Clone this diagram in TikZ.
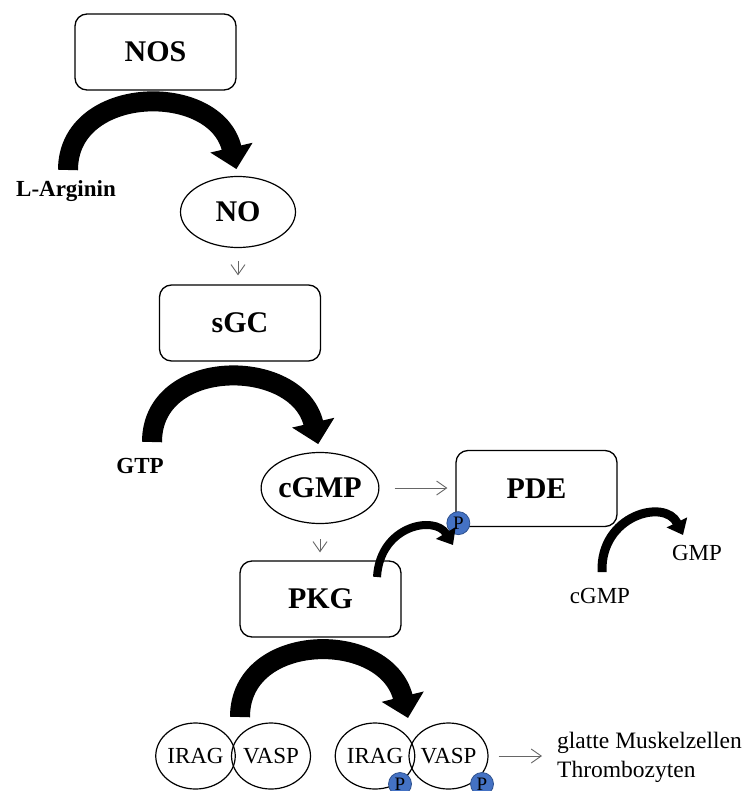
\documentclass[tikz,border=0pt]{standalone}
\usepackage{fontspec}
\setmainfont{Liberation Serif}
\usetikzlibrary{calc,arrows.meta,shapes.geometric}
\definecolor{pblue}{HTML}{4472C4}
\definecolor{pblueline}{HTML}{2F528F}
\tikzset{
  enzbox/.style={draw, line width=1.3pt, rounded corners=12pt, minimum width=161pt, minimum height=76pt, inner sep=0pt, font=\fontsize{30}{30}\selectfont\bfseries},
  molell/.style={draw, ellipse, line width=1.2pt, minimum width=115pt, minimum height=71pt, inner sep=0pt, font=\fontsize{30}{30}\selectfont\bfseries},
  subcirc/.style={draw, ellipse, line width=1.2pt, minimum width=73pt, minimum height=66pt, inner sep=0pt, font=\fontsize{23}{23}\selectfont},
  phos/.style={circle, fill=pblue, draw=pblueline, line width=0.8pt, minimum size=23pt, inner sep=0pt, font=\fontsize{19}{19}\selectfont},
  lbl/.style={inner sep=0pt, font=\fontsize{23}{23}\selectfont},
  thinarrow/.style={draw=black!60, line width=0.9pt, -{Straight Barb[length=10pt,width=14pt]}},
  bigarc/.style={line width=20pt, -{Triangle[width=42pt,length=22pt]}},
  smallarc/.style={line width=8pt, -{Triangle[width=22pt,length=14pt]}}
}

\begin{document}
\begin{tikzpicture}[x=1pt, y=-1pt]
		%%%%% START %%%%%
		\useasboundingbox (0,0) rectangle (748,791);

		\node[enzbox] (NOS) at (155.5,52) {NOS};
		\node[molell] (NO) at (238,212) {NO};
		\node[enzbox] (sGC) at (240,323) {sGC};
		\node[molell] (cGMP) at (320,488) {cGMP};
		\node[enzbox] (PDE) at (536.5,488.5) {PDE};
		\node[enzbox] (PKG) at (320.5,599) {PKG};

		\node[lbl, font=\fontsize{23}{23}\selectfont\bfseries, anchor=base] (Larg) at (66,197) {L-Arginin};
		\node[lbl, font=\fontsize{23}{23}\selectfont\bfseries, anchor=base] (GTP) at (140,473) {GTP};
		\node[lbl, anchor=base] (GMP) at (697,560) {GMP};
		\node[lbl, anchor=base] (cGMPb) at (600,603) {cGMP};

		\node[subcirc] (IRAG1) at (195.5,756) {IRAG};
		\node[subcirc] (VASP1) at (271,756) {VASP};
		\node[subcirc] (IRAG2) at (375,756) {IRAG};
		\node[subcirc] (VASP2) at (448.5,756) {VASP};

		\node[phos] (P0) at ($(PDE.south west)+(3,-4)$) {P};
		\node[phos] (P1) at (400,784) {P};
		\node[phos] (P2) at (482,784) {P};

		\node[lbl, anchor=west, align=left, font=\fontsize{23.5}{29}\selectfont] (effect) at (557,757) {glatte Muskelzellen\\Thrombozyten};

		% big reaction arcs
		\coordinate (argIn) at (68,170);
		\coordinate (gtpIn) at (152,442);
		\coordinate (pkgIn) at (240,717);
		\coordinate (pkgTip) at (408,718);
		\draw[bigarc, shorten >=7pt] (argIn) .. controls +(0,-86) and +(-22,-95) .. (NO.north);
		\draw[bigarc, shorten >=8pt] (gtpIn) .. controls +(0,-86) and +(-22,-95) .. (cGMP.north);
		\draw[bigarc] (pkgIn) .. controls +(0,-86) and +(-22,-89) .. (pkgTip);

		% small arcs
		\coordinate (pkgOut) at (377,577);
		\coordinate (pdeIn) at (453,545);
		\coordinate (cgIn) at (602,572);
		\coordinate (gmpOut) at (683,535);
		\draw[smallarc] (pkgOut) .. controls +(3,-52) and +(-18,-30) .. (pdeIn);
		\draw[smallarc, line width=9pt] (cgIn) .. controls +(-2,-57) and +(-18,-37) .. (gmpOut);

		% thin arrows
		\draw[thinarrow, shorten <=13pt, shorten >=9pt] (NO.south) -- (NO.south |- sGC.north);
		\draw[thinarrow, shorten <=15pt, shorten >=8pt] (cGMP.south) -- (cGMP.south |- PKG.north);
		\draw[thinarrow, shorten <=15pt, shorten >=8pt] (cGMP.east) -- (cGMP.east -| PDE.west);
		\draw[thinarrow, shorten <=10pt, shorten >=15pt] (VASP2.east) -- (VASP2.east -| effect.west);
		%%%%% END %%%%%
\end{tikzpicture}
\end{document}
